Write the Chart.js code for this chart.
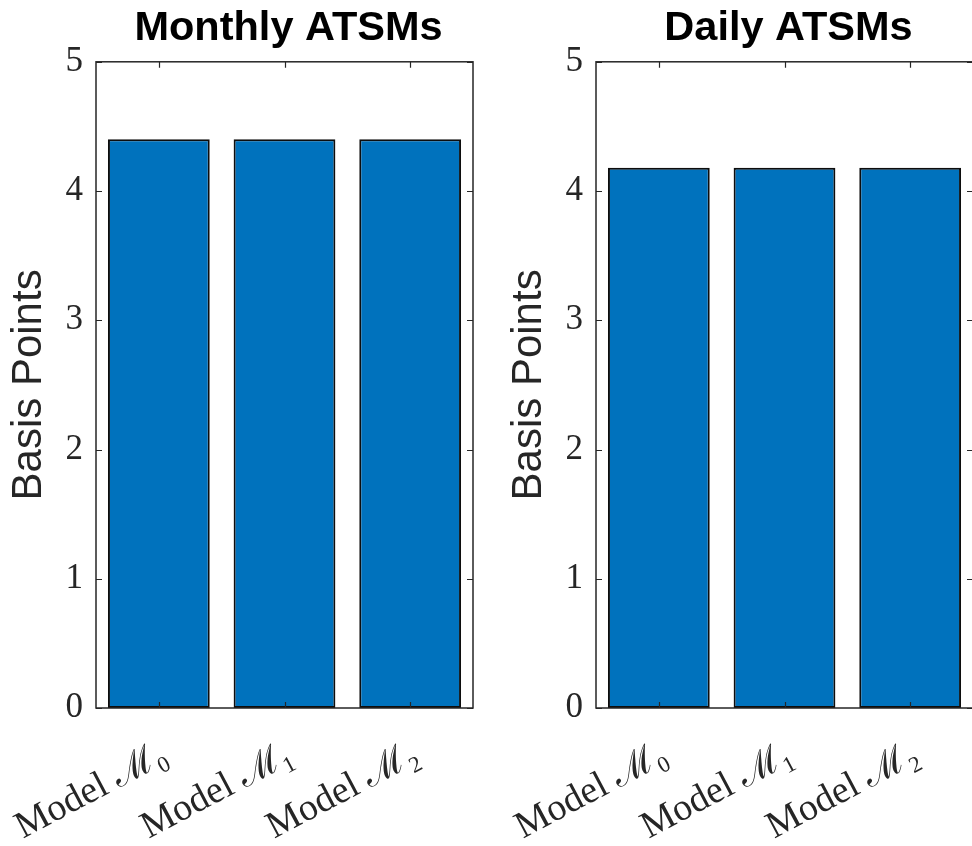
<!DOCTYPE html>
<html>
<head>
<meta charset="utf-8">
<title>ATSM pricing errors</title>
<script src="https://cdn.jsdelivr.net/npm/chart.js@4.4.1/dist/chart.umd.min.js"></script>
<style>
  html, body { margin: 0; padding: 0; background: #ffffff; overflow: hidden; }
  #wrap { position: relative; width: 972px; height: 846px; overflow: hidden; }
  canvas { position: absolute; top: 0; }
  #monthly { left: 0; }
  #daily { left: 500px; }
</style>
</head>
<body>
<div id="wrap">
  <canvas id="monthly" width="577" height="846"></canvas>
  <canvas id="daily" width="577" height="846"></canvas>
</div>
<script>
// Categories and values (basis points)
const models = ['Model \u2133\u2080', 'Model \u2133\u2081', 'Model \u2133\u2082'];
const monthlyBp = [4.40, 4.40, 4.40];
const dailyBp = [4.18, 4.18, 4.18];
const yMin = 0;
const yMax = 5;
const yStep = 1;
const titles = ['Monthly ATSMs', 'Daily ATSMs'];
const yTitle = 'Basis Points';

const AX = '#262626';
const BAR = '#0072BD';
const SERIF = "'Liberation Serif', 'DejaVu Serif', serif";
const SANS = "'Liberation Sans', Arial, Helvetica, sans-serif";

// Boxed axes with inward tick marks on all four sides
const boxAxes = {
  id: 'boxAxes',
  afterDatasetsDraw(chart) {
    const { ctx, chartArea: a, scales } = chart;
    const x = scales.x, y = scales.y;
    const len = 6;
    ctx.save();
    ctx.strokeStyle = AX;
    ctx.lineWidth = 1.2;
    ctx.beginPath();
    y.ticks.forEach(t => {
      const py = Math.round(y.getPixelForValue(t.value)) + 0.5;
      ctx.moveTo(a.left, py); ctx.lineTo(a.left + len, py);
      ctx.moveTo(a.right, py); ctx.lineTo(a.right - len, py);
    });
    x.ticks.forEach((t, i) => {
      const px = Math.round(x.getPixelForTick(i)) + 0.5;
      ctx.moveTo(px, a.bottom); ctx.lineTo(px, a.bottom - len);
      ctx.moveTo(px, a.top); ctx.lineTo(px, a.top + len);
    });
    ctx.stroke();
    ctx.lineWidth = 1.5;
    ctx.strokeRect(a.left, a.top, a.right - a.left, a.bottom - a.top);
    ctx.restore();
  }
};

function makeChart(id, title, values) {
  return new Chart(document.getElementById(id), {
    type: 'bar',
    data: {
      labels: models,
      datasets: [{
        data: values,
        backgroundColor: BAR,
        borderColor: '#0d0d0d',
        borderWidth: 2,
        borderSkipped: false,
        barPercentage: 0.81,
        categoryPercentage: 1.0
      }]
    },
    options: {
      responsive: false,
      animation: false,
      layout: { padding: 0 },
      plugins: {
        legend: { display: false },
        tooltip: { enabled: false },
        title: {
          display: true,
          text: title,
          color: '#000000',
          font: { family: SANS, size: 41.5, weight: 'bold', lineHeight: 1.2 },
          padding: { top: 4, bottom: 8 }
        }
      },
      scales: {
        x: {
          grid: { display: false, drawTicks: false },
          border: { display: false },
          ticks: {
            color: AX,
            font: { family: SERIF, size: 38 },
            minRotation: 28,
            maxRotation: 28,
            padding: 24,
            labelOffset: 6,
            autoSkip: false
          },
          afterFit(s) { s.height = 138; s.paddingLeft = 0; s.paddingRight = 0; }
        },
        y: {
          position: 'left',
          min: yMin,
          max: yMax,
          grid: { display: false, drawTicks: false },
          border: { display: false },
          ticks: {
            stepSize: yStep,
            color: AX,
            font: { family: SERIF, size: 35 },
            padding: 13
          },
          title: {
            display: true,
            text: yTitle,
            color: AX,
            font: { family: SANS, size: 42, lineHeight: 1.2 },
            padding: { top: 4, bottom: 0 }
          },
          afterFit(s) { s.width = 96; s.paddingTop = 0; s.paddingBottom = 0; }
        },
        // empty right-hand spacer so the title sits over the plot box
        yPad: {
          position: 'right',
          display: true,
          grid: { display: false, drawTicks: false },
          border: { display: false },
          ticks: { display: false },
          afterFit(s) { s.width = 104; s.paddingTop = 0; s.paddingBottom = 0; }
        }
      }
    },
    plugins: [boxAxes]
  });
}

makeChart('monthly', titles[0], monthlyBp);
makeChart('daily', titles[1], dailyBp);
</script>
</body>
</html>
